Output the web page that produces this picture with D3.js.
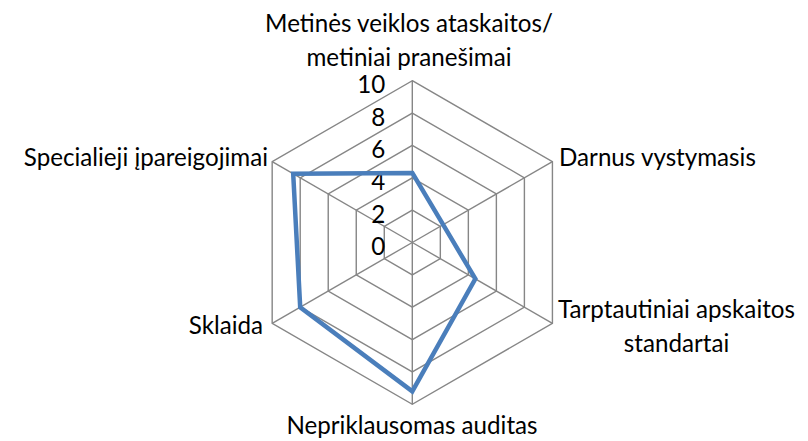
<!DOCTYPE html>
<html>
<head>
<meta charset="utf-8">
<script src="https://cdn.jsdelivr.net/npm/d3@7"></script>
<style>
  html, body { margin: 0; padding: 0; background: #fff; }
  svg { display: block; }
</style>
</head>
<body>
<svg id="chart" width="808" height="441"></svg>
<script>
// ---- data ----
const categories = [
  ["Metinės veiklos ataskaitos/", "metiniai pranešimai"],
  ["Darnus vystymasis"],
  ["Tarptautiniai apskaitos", "standartai"],
  ["Nepriklausomas auditas"],
  ["Sklaida"],
  ["Specialieji įpareigojimai"]
];
const values = [4.3, 2.2, 4.5, 9.2, 8.0, 8.5];
const tickValues = [0, 2, 4, 6, 8, 10];
const tickLabels = ["0", "2", "4", "6", "8", "10"];

// ---- layout ----
const W = 808, H = 441;
const cx = 412.3, cy = 242.5, R = 161.8;
const gridColor = "#868686";
const lineColor = "#4a7ebb";
const fontFamily = "Lato, 'Open Sans', sans-serif";

const svg = d3.select("#chart");

// font size chosen so label widths match the reference
const probe = svg.append("text").attr("font-family", fontFamily).attr("font-size", 100).text("Darnus vystymasis");
const pw = probe.node().getComputedTextLength();
probe.remove();
const fs = 100 * 197 / pw;

const r = d3.scaleLinear().domain([0, 10]).range([0, R]);
const n = categories.length;
const angle = d3.scaleLinear().domain([0, n]).range([0, 2 * Math.PI]);
const pt = (i, v) => {
  const a = angle(i);
  return [cx + r(v) * Math.sin(a), cy - r(v) * Math.cos(a)];
};

const g = svg.append("g");

// rings
tickValues.filter(t => t > 0).forEach(t => {
  g.append("path")
    .attr("d", d3.line()(d3.range(n).map(i => pt(i, t))) + "Z")
    .attr("fill", "none")
    .attr("stroke", gridColor)
    .attr("stroke-width", 1.4);
});

// spokes
d3.range(n).forEach(i => {
  const [x, y] = pt(i, 10);
  g.append("line")
    .attr("x1", cx).attr("y1", cy).attr("x2", x).attr("y2", y)
    .attr("stroke", gridColor)
    .attr("stroke-width", 1.4);
});

// tick labels
g.selectAll("text.tick")
  .data(tickValues)
  .join("text")
  .attr("class", "tick")
  .attr("x", cx - 27)
  .attr("y", d => cy - r(d) + 3)
  .attr("text-anchor", "end")
  .attr("dominant-baseline", "central")
  .attr("font-family", fontFamily)
  .attr("font-size", fs)
  .attr("fill", "#000")
  .text((d, i) => tickLabels[i]);

// series line
g.append("path")
  .attr("d", d3.line()(values.map((v, i) => pt(i, v))) + "Z")
  .attr("fill", "none")
  .attr("stroke", lineColor)
  .attr("stroke-width", 4.5)
  .attr("stroke-linejoin", "miter");

// category labels
const labelPos = [
  { x: 409, y: 31.5, anchor: "middle" },
  { x: 559, y: 166, anchor: "start" },
  { x: 558, y: 318, anchor: "block" },
  { x: 412, y: 434, anchor: "middle" },
  { x: 263, y: 334, anchor: "end" },
  { x: 268, y: 166, anchor: "end" }
];
const lineGap = 34;

categories.forEach((lines, i) => {
  const p = labelPos[i];
  const t = g.append("text")
    .attr("font-family", fontFamily)
    .attr("font-size", fs)
    .attr("fill", "#000");
  if (p.anchor === "block") {
    // centered multi-line block, left-aligned to x
    const tmp = svg.append("text").attr("font-family", fontFamily).attr("font-size", fs);
    const widths = lines.map(s => { tmp.text(s); return tmp.node().getComputedTextLength(); });
    tmp.remove();
    const bw = d3.max(widths);
    const mid = p.x + bw / 2;
    t.attr("text-anchor", "middle");
    lines.forEach((s, k) => {
      t.append("tspan").attr("x", mid).attr("y", p.y + k * lineGap).text(s);
    });
  } else {
    t.attr("text-anchor", p.anchor);
    lines.forEach((s, k) => {
      t.append("tspan").attr("x", p.x).attr("y", p.y + k * lineGap).text(s);
    });
  }
});
</script>
</body>
</html>
